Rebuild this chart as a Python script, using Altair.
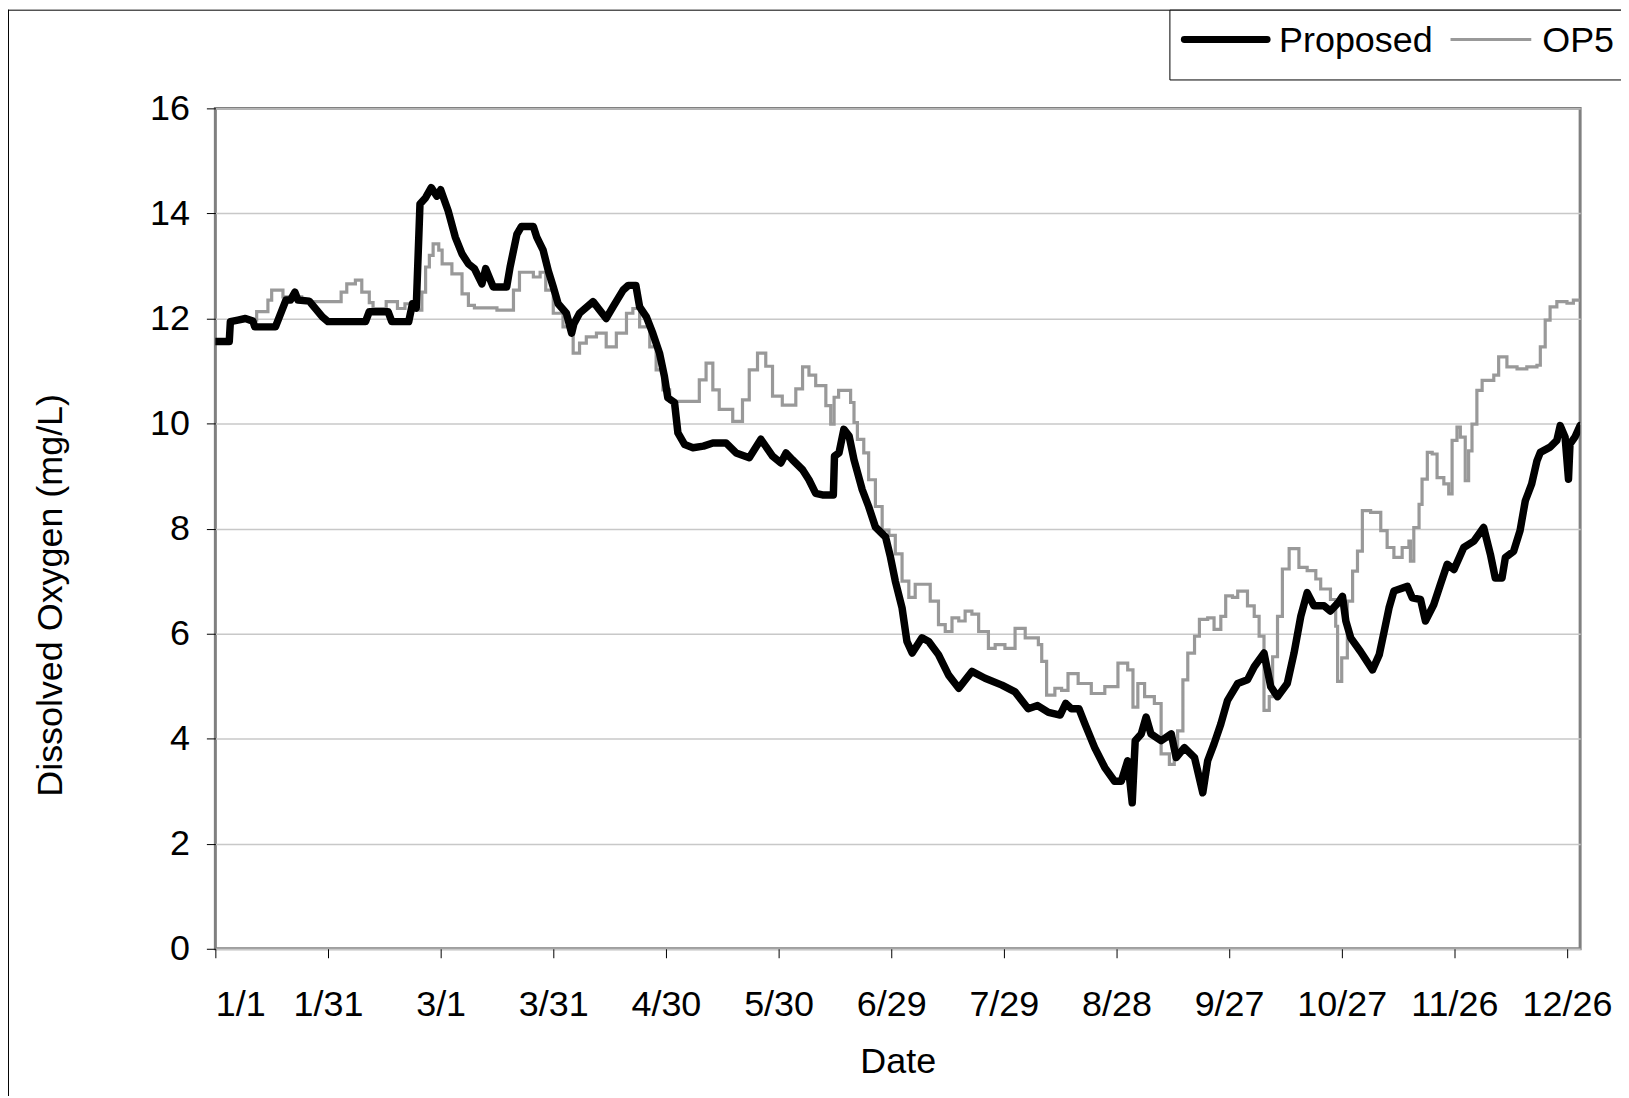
import altair as alt
import pandas as pd

SERIES = ["Proposed", "OP5"]
COLORS = ["#000000", "#999999"]

TICK_DAYS = [0, 30, 60, 90, 120, 150, 180, 210, 240, 270, 300, 330, 360]
TICK_LABELS = ["1/1", "1/31", "3/1", "3/31", "4/30", "5/30", "6/29",
               "7/29", "8/28", "9/27", "10/27", "11/26", "12/26"]
Y_TICKS = [0, 2, 4, 6, 8, 10, 12, 14, 16]

PROPOSED_DAY = [
    0, 3.7, 4.0, 6, 8, 10, 10.5, 16, 18.8, 20, 21.2, 22, 25, 28.5, 30, 40, 41, 46, 47, 51.5,
    52.5, 53.5, 54.5, 56, 57.5, 59, 60, 62, 63.9, 65.7, 67.4, 69, 71, 72, 74, 77.6, 78.5, 80.3,
    81.5, 84.7, 85.6, 87.3, 88.7, 90, 91.3, 93.5, 94.9, 95.5, 97, 100.6, 104.1, 105.9, 108.6,
    110, 112, 113, 114.8, 116.5, 118.3, 119.6, 120.5, 122.3, 123.2, 125, 127.2, 130, 132.5,
    136, 138.7, 142.2, 145.3, 148.4, 150.6, 152, 153.7, 156.4, 158.1, 159.9, 161.7, 164.6,
    164.9, 166.1, 167.4, 168.8, 170.1, 172.3, 174, 175.8, 178.5, 179.8, 181.1, 182.9, 184.2,
    185.6, 188.2, 190, 192.6, 195.3, 198, 201.5, 205, 209.5, 213, 216.5, 219, 221.9, 225,
    226.5, 228, 230, 231.6, 234.2, 236.9, 239.5, 241.3, 243, 244.2, 245, 246.6, 247.9, 249.2,
    251.9, 254.6, 255.9, 258.1, 260.8, 263, 264.3, 266, 267.8, 269.6, 272.3, 274.9, 276.7,
    279.3, 281.1, 282.9, 285.5, 287.3, 289.1, 290.8, 292.6, 295.3, 297, 299.2, 300.2, 301.1,
    302.4, 305, 308.2, 310, 311.3, 312.6, 313.9, 317.5, 318.8, 321, 322.3, 324.5, 326.3,
    328.1, 329.9, 332.5, 335.2, 337.8, 339.6, 340.9, 342.7, 343.6, 345.8, 347.5, 348.9,
    350.6, 352, 352.9, 355.5, 357.3, 358.2, 359.5, 360.4, 360.8, 362.1, 363.5]
PROPOSED_DO = [
    11.56, 11.56, 11.94, 11.97, 12.0, 11.95, 11.84, 11.84, 12.35, 12.35, 12.5, 12.35, 12.33,
    12.03, 11.94, 11.94, 12.13, 12.13, 11.94, 11.94, 12.28, 12.2, 14.18, 14.3, 14.49, 14.33,
    14.45, 14.05, 13.55, 13.23, 13.04, 12.95, 12.66, 12.95, 12.6, 12.6, 12.98, 13.6, 13.75,
    13.75, 13.55, 13.3, 12.9, 12.6, 12.28, 12.1, 11.72, 11.9, 12.1, 12.32, 12.0, 12.22, 12.54,
    12.63, 12.63, 12.22, 12.03, 11.72, 11.34, 10.9, 10.49, 10.4, 9.82, 9.6, 9.54, 9.57, 9.63,
    9.63, 9.44, 9.35, 9.7, 9.38, 9.25, 9.44, 9.31, 9.12, 8.93, 8.67, 8.64, 8.64, 9.38, 9.44,
    9.89, 9.76, 9.31, 8.74, 8.42, 8.03, 7.84, 7.46, 7.0, 6.49, 5.85, 5.63, 5.92, 5.85, 5.6,
    5.21, 4.96, 5.28, 5.15, 5.02, 4.89, 4.57, 4.63, 4.5, 4.45, 4.67, 4.57, 4.57, 4.28, 3.83,
    3.45, 3.19, 3.19, 3.58, 2.78, 3.96, 4.09, 4.41, 4.09, 3.96, 4.09, 3.64, 3.83, 3.64, 2.97,
    3.58, 3.9, 4.28, 4.73, 5.05, 5.12, 5.37, 5.63, 4.99, 4.8, 5.05, 5.63, 6.33, 6.78, 6.53,
    6.53, 6.43, 6.6, 6.71, 6.24, 5.92, 5.66, 5.31, 5.6, 6.04, 6.49, 6.81, 6.9, 6.68, 6.65,
    6.24, 6.55, 6.94, 7.32, 7.22, 7.64, 7.76, 8.02, 7.51, 7.06, 7.06, 7.45, 7.57, 7.96, 8.53,
    8.85, 9.29, 9.45, 9.55, 9.68, 9.96, 9.74, 8.94, 9.61, 9.74, 9.96]

OP5_DAY = [
    0, 3.7, 4.0, 10.4, 11, 13.5, 14, 15, 17.4, 18, 22.3, 23, 32, 33.5, 35, 37.3, 39, 41, 42,
    45, 45.5, 48, 48.5, 50, 50.5, 52.4, 53, 54, 55, 56, 57, 58, 59.5, 60.4, 63, 65.7, 67.4,
    69, 75, 78.5, 79.4, 81, 83, 84.7, 86.5, 88, 90, 92.6, 95.3, 97, 98.8, 101.5, 104.1, 106.8,
    109.5, 111.2, 113, 115.7, 117.4, 119.2, 121, 127, 128.9, 130.7, 132.5, 134.2, 137.8,
    140.4, 142.2, 144.4, 146.6, 148.4, 151, 153.7, 154.6, 156.4, 158.1, 159.9, 162.6, 163.9,
    164.8, 166, 168, 169.2, 170.1, 171, 172.7, 174, 175.8, 177.6, 179.4, 181.1, 182.9, 184.7,
    186.4, 188.7, 190.4, 192.6, 194.4, 196.2, 198, 199.7, 201.5, 203.3, 205.9, 207.7, 210.3,
    213, 215.7, 219.2, 220.1, 221.4, 223.6, 225.4, 227.1, 229.8, 233.3, 236.9, 240.4, 243,
    244.4, 245.7, 247.5, 250.1, 251.9, 254.1, 255.4, 256.3, 257.7, 259, 260.8, 262.1, 264.3,
    266, 267.8, 269.1, 270.9, 272.3, 274.9, 276.7, 278, 279.3, 280.7, 281.6, 282.9, 284.2,
    286, 287.3, 288.6, 290.8, 293.1, 294.4, 297, 298.4, 298.9, 300, 301.5, 302.9, 304.2,
    305.5, 307.7, 310.4, 312.1, 313.9, 316.1, 317.9, 318.3, 319.2, 320.6, 321.4, 322.8,
    324.1, 325.4, 327.2, 328.5, 329.4, 330.7, 331.6, 332.9, 333.8, 334.7, 336, 337.4, 340.5,
    341.8, 344, 346.7, 349.3, 352, 352.9, 354.2, 355.5, 357.3, 360, 361.7, 363]
OP5_DO = [
    11.56, 11.56, 11.97, 11.97, 12.13, 12.13, 12.35, 12.54, 12.54, 12.41, 12.41, 12.32, 12.32,
    12.5, 12.66, 12.73, 12.5, 12.3, 12.19, 12.19, 12.32, 12.32, 12.19, 12.19, 12.28, 12.28,
    12.16, 12.16, 12.5, 12.98, 13.2, 13.42, 13.3, 13.04, 12.85, 12.47, 12.25, 12.2, 12.16,
    12.16, 12.54, 12.88, 12.88, 12.79, 12.88, 12.54, 12.1, 11.84, 11.34, 11.53, 11.65, 11.72,
    11.46, 11.72, 12.1, 12.19, 11.84, 11.46, 11.02, 10.64, 10.42, 10.42, 10.83, 11.15, 10.64,
    10.27, 10.04, 10.45, 11.02, 11.34, 11.09, 10.52, 10.35, 10.35, 10.66, 11.08, 10.92, 10.72,
    10.34, 9.99, 10.5, 10.63, 10.63, 10.4, 10.02, 9.7, 9.44, 8.93, 8.42, 7.97, 7.87, 7.52,
    7.0, 6.69, 6.94, 6.94, 6.62, 6.17, 6.04, 6.3, 6.24, 6.43, 6.37, 6.04, 5.72, 5.79, 5.72,
    6.1, 5.92, 5.79, 5.47, 4.83, 4.96, 4.92, 5.24, 5.05, 4.86, 4.99, 5.44, 5.31, 4.6, 5.05,
    4.8, 4.67, 3.71, 3.51, 3.83, 4.15, 5.12, 5.63, 5.95, 6.27, 6.3, 6.08, 6.33, 6.72, 6.69,
    6.81, 6.53, 6.33, 5.95, 4.54, 4.8, 5.56, 6.33, 7.23, 7.62, 7.62, 7.26, 7.2, 7.04, 6.85,
    6.65, 6.14, 5.09, 5.54, 6.62, 7.19, 7.57, 8.34, 8.31, 7.96, 7.64, 7.45, 7.64, 7.76, 7.38,
    8.02, 8.46, 8.94, 9.45, 9.42, 8.97, 8.85, 8.66, 9.68, 9.93, 9.74, 8.91, 9.48, 9.99, 10.63,
    10.82, 10.92, 11.27, 11.08, 11.04, 11.08, 11.11, 11.46, 11.97, 12.22, 12.32, 12.29,
    12.35, 12.38]

FONT = "Liberation Sans"
W, H = 1369, 843

prop_df = pd.DataFrame({"day": PROPOSED_DAY, "do": PROPOSED_DO, "series": SERIES[0]})
op5_df = pd.DataFrame({"day": OP5_DAY, "do": OP5_DO, "series": SERIES[1]})

label_expr = "[" + ",".join("'%s'" % s for s in TICK_LABELS) + "][round(datum.value / 30)]"

x_enc = alt.X(
    "day:Q",
    scale=alt.Scale(domain=[0, 363.5], nice=False, zero=False),
    axis=alt.Axis(values=TICK_DAYS, labelExpr=label_expr, grid=False, domain=False,
                  tickColor="#000000", tickSize=9, tickWidth=1,
                  labelFont=FONT, labelFontSize=36, labelColor="#000000",
                  labelPadding=30, labelBaseline="top",
                  title="Date", titleFont=FONT, titleFontSize=36, titleFontWeight="normal",
                  titleColor="#000000", titleBaseline="alphabetic", titleY=124),
)
y_enc = alt.Y(
    "do:Q",
    scale=alt.Scale(domain=[0, 16], nice=False),
    axis=alt.Axis(values=Y_TICKS, grid=True, gridColor="#c8c8c8", gridWidth=1.5,
                  domain=False, tickColor="#000000", tickSize=9, tickWidth=1,
                  labelFont=FONT, labelFontSize=36, labelColor="#000000", labelPadding=17,
                  title="Dissolved Oxygen (mg/L)", titleFont=FONT, titleFontSize=36,
                  titleFontWeight="normal", titleColor="#000000", titleAngle=270,
                  titleBaseline="middle", titleX=-165, titleY=488),
)

op5_line = alt.Chart(op5_df).mark_line(color=COLORS[1], strokeWidth=3.2,
                                        interpolate="step-after", clip=True).encode(
    x=x_enc, y=y_enc)
prop_line = alt.Chart(prop_df).mark_line(color=COLORS[0], strokeWidth=7.5, strokeJoin="round",
                                          strokeCap="round", clip=True).encode(x=x_enc, y=y_enc)

# outer chart-area border (left and top edges)
outer_left = alt.Chart(pd.DataFrame({"k": [0]})).mark_rule(color="#000000", strokeWidth=1).encode(
    x=alt.value(-207.5), y=alt.value(-99), y2=alt.value(1000))
outer_top = alt.Chart(pd.DataFrame({"k": [0]})).mark_rule(color="#000000", strokeWidth=1).encode(
    x=alt.value(-208), x2=alt.value(1500), y=alt.value(-98.5))

# legend box
leg_box = alt.Chart(pd.DataFrame({"k": [0]})).mark_rect(
    fill="#ffffff", stroke="#000000", strokeWidth=1).encode(
    x=alt.value(957.5), x2=alt.value(1500), y=alt.value(-98.5), y2=alt.value(-28.5))
leg_line1 = alt.Chart(pd.DataFrame({"series": [SERIES[0]]})).mark_rule(
    color=COLORS[0], strokeWidth=7, strokeCap="round").encode(
    x=alt.value(972), x2=alt.value(1055), y=alt.value(-69))
leg_text1 = alt.Chart(pd.DataFrame({"series": [SERIES[0]]})).mark_text(
    align="left", baseline="middle", font=FONT, fontSize=36, color="#000000").encode(
    x=alt.value(1067), y=alt.value(-68), text="series:N")
leg_line2 = alt.Chart(pd.DataFrame({"series": [SERIES[1]]})).mark_rule(
    color=COLORS[1], strokeWidth=3).encode(
    x=alt.value(1239), x2=alt.value(1320), y=alt.value(-69))
leg_text2 = alt.Chart(pd.DataFrame({"series": [SERIES[1]]})).mark_text(
    align="left", baseline="middle", font=FONT, fontSize=36, color="#000000").encode(
    x=alt.value(1331), y=alt.value(-68), text="series:N")

chart = alt.layer(
    op5_line, prop_line, outer_left, outer_top, leg_box, leg_line1, leg_text1, leg_line2, leg_text2
).properties(
    width=W, height=H,
    padding={"left": 208, "top": 99, "right": 41, "bottom": 146},
    autosize=alt.AutoSizeParams(type="none"),
    background="#ffffff",
).configure_view(
    stroke="#808080", strokeWidth=3
)

chart.save("out.html", embed_options={"renderer": "svg", "actions": False})
